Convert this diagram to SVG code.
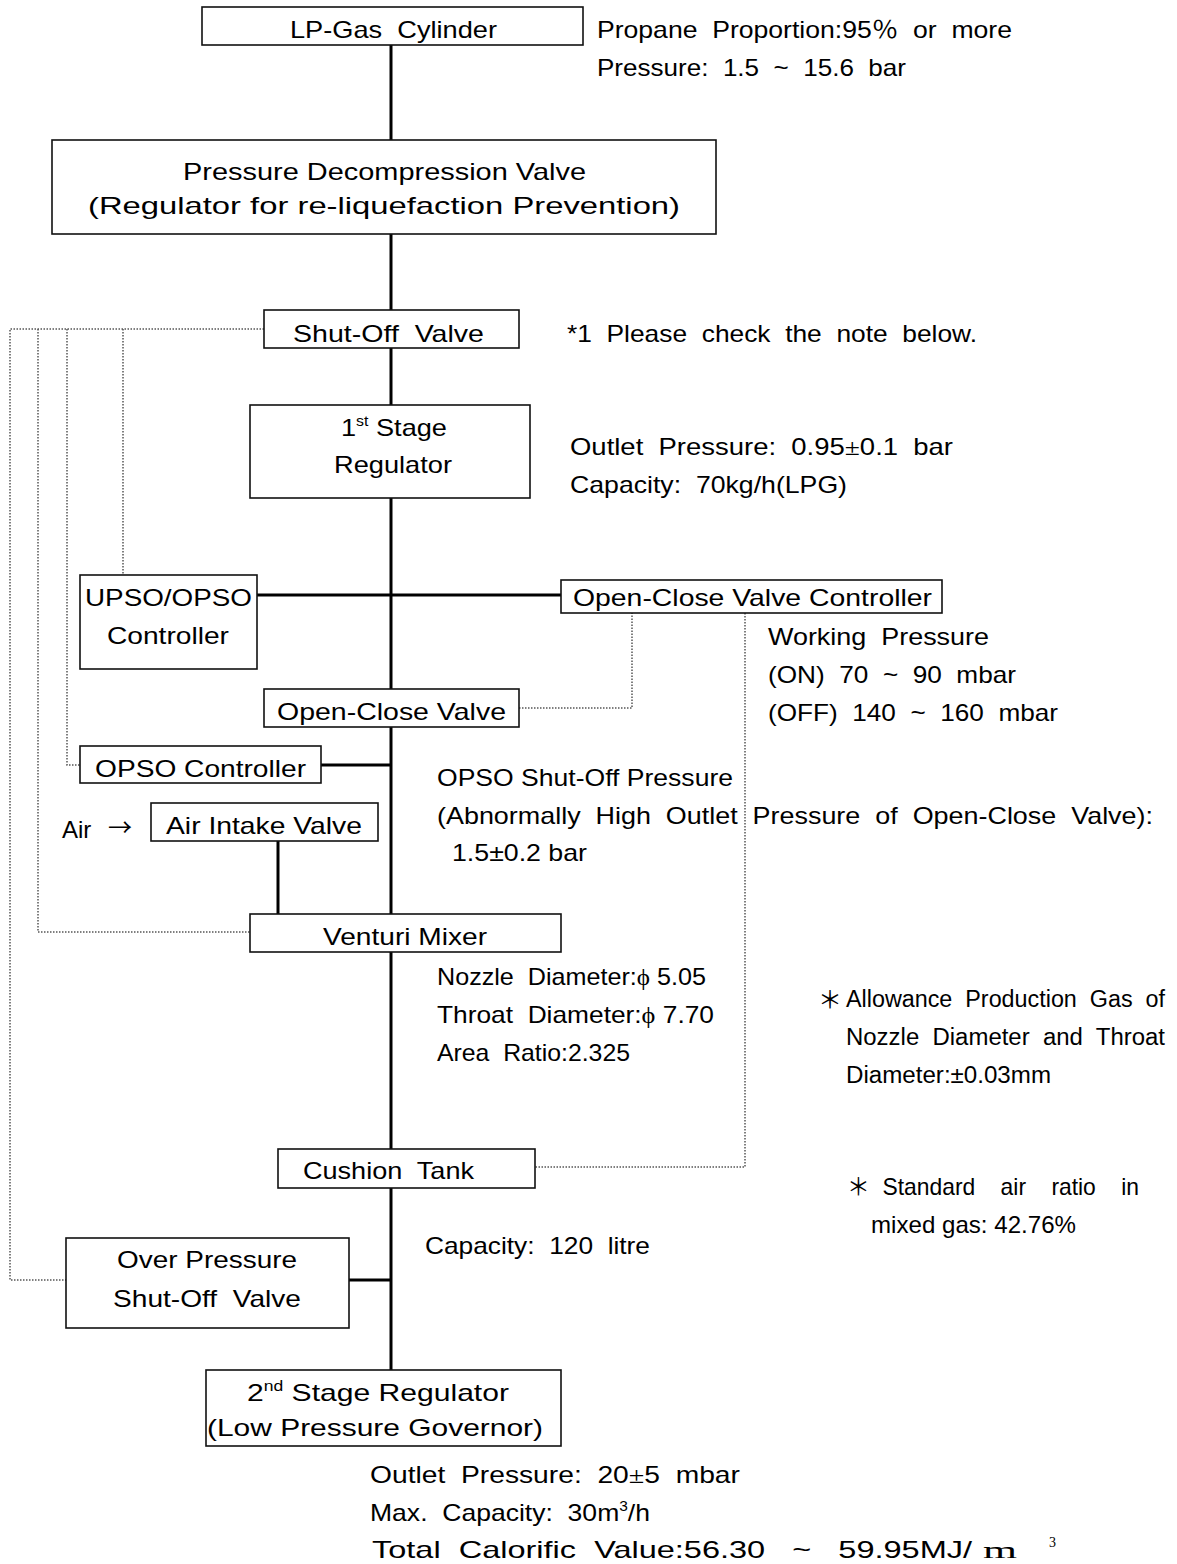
<svg xmlns="http://www.w3.org/2000/svg" width="1177" height="1564" viewBox="0 0 1177 1564" xml:space="preserve">
<style>
text{font-family:"Liberation Sans",Arial,"Noto Sans CJK KR",sans-serif;font-size:24px;fill:#000;white-space:pre}
.box{fill:#fff;stroke:#111;stroke-width:1.6}
.solid{stroke:#000;stroke-width:3;fill:none}
.dot{stroke:#555;stroke-width:1.5;stroke-dasharray:1.5 1.5;fill:none}
.serif{font-family:"Liberation Serif","Noto Sans CJK KR",serif}
.cjk{font-family:"Noto Sans CJK KR",sans-serif}
.sup{font-size:14px}
.small{font-size:23px}
</style>
<rect width="1177" height="1564" fill="#fff"/>
<g id="connectors">
<line class="solid" x1="391" y1="45" x2="391" y2="140"/>
<line class="solid" x1="391" y1="234" x2="391" y2="310"/>
<line class="solid" x1="391" y1="348" x2="391" y2="405"/>
<line class="solid" x1="391" y1="498" x2="391" y2="689"/>
<line class="solid" x1="391" y1="727" x2="391" y2="914"/>
<line class="solid" x1="391" y1="952" x2="391" y2="1149"/>
<line class="solid" x1="391" y1="1188" x2="391" y2="1370"/>
<line class="solid" x1="257" y1="595" x2="561" y2="595"/>
<line class="solid" x1="321" y1="765" x2="391" y2="765"/>
<line class="solid" x1="278" y1="841" x2="278" y2="914"/>
<line class="solid" x1="349" y1="1280" x2="391" y2="1280"/>
<polyline class="dot" points="264,329 10,329 10,1280 66,1280"/>
<polyline class="dot" points="38,329 38,932 250,932"/>
<polyline class="dot" points="67,329 67,765 80,765"/>
<line class="dot" x1="123" y1="329" x2="123" y2="575"/>
<polyline class="dot" points="519,708 632,708 632,613"/>
<polyline class="dot" points="745,613 745,1167 535,1167"/>
</g>
<g id="lp-gas-cylinder">
<rect class="box" x="202" y="7" width="381" height="38"/>
<text x="290" y="38" textLength="207" lengthAdjust="spacingAndGlyphs">LP-Gas  Cylinder</text>
</g>
<g id="note-cylinder">
<text x="597" y="38" textLength="415" lengthAdjust="spacingAndGlyphs">Propane  Proportion:95<tspan class="serif">％</tspan>  or  more</text>
<text x="597" y="76" textLength="309" lengthAdjust="spacingAndGlyphs">Pressure:  1.5  ~  15.6  bar</text>
</g>
<g id="pressure-decompression-valve">
<rect class="box" x="52" y="140" width="664" height="94"/>
<text x="183" y="180" textLength="403" lengthAdjust="spacingAndGlyphs">Pressure Decompression Valve</text>
<text x="88" y="214" textLength="592" lengthAdjust="spacingAndGlyphs">(Regulator for re-liquefaction Prevention)</text>
</g>
<g id="shut-off-valve">
<rect class="box" x="264" y="310" width="255" height="38"/>
<text x="293" y="342" textLength="191" lengthAdjust="spacingAndGlyphs">Shut-Off  Valve</text>
<text x="567" y="342" textLength="410" lengthAdjust="spacingAndGlyphs">*1  Please  check  the  note  below.</text>
</g>
<g id="first-stage-regulator">
<rect class="box" x="250" y="405" width="280" height="93"/>
<text x="341" y="436" textLength="106" lengthAdjust="spacingAndGlyphs">1<tspan class="sup" dy="-10">st</tspan><tspan dy="10"> Stage</tspan></text>
<text x="334" y="473" textLength="118" lengthAdjust="spacingAndGlyphs">Regulator</text>
<text x="570" y="455" textLength="383" lengthAdjust="spacingAndGlyphs">Outlet  Pressure:  0.95<tspan class="serif">±</tspan>0.1  bar</text>
<text x="570" y="493" textLength="277" lengthAdjust="spacingAndGlyphs">Capacity:  70kg/h(LPG)</text>
</g>
<g id="upso-opso-controller">
<rect class="box" x="80" y="575" width="177" height="94"/>
<text x="85" y="606" textLength="167" lengthAdjust="spacingAndGlyphs">UPSO/OPSO</text>
<text x="107" y="644" textLength="122" lengthAdjust="spacingAndGlyphs">Controller</text>
</g>
<g id="open-close-valve-controller">
<rect class="box" x="561" y="580" width="381" height="33"/>
<text x="573" y="606" textLength="359" lengthAdjust="spacingAndGlyphs">Open-Close Valve Controller</text>
<text x="768" y="645" textLength="221" lengthAdjust="spacingAndGlyphs">Working  Pressure</text>
<text x="768" y="683" textLength="248" lengthAdjust="spacingAndGlyphs">(ON)  70  ~  90  mbar</text>
<text x="768" y="721" textLength="290" lengthAdjust="spacingAndGlyphs">(OFF)  140  ~  160  mbar</text>
</g>
<g id="open-close-valve">
<rect class="box" x="264" y="689" width="255" height="38"/>
<text x="277" y="720" textLength="229" lengthAdjust="spacingAndGlyphs">Open-Close Valve</text>
</g>
<g id="opso-controller">
<rect class="box" x="80" y="746" width="241" height="37"/>
<text x="95" y="777" textLength="211" lengthAdjust="spacingAndGlyphs">OPSO Controller</text>
</g>
<g id="air-intake-valve">
<text x="62" y="838">Air</text>
<text x="108" y="836" class="cjk" font-size="22">→</text>
<rect class="box" x="151" y="803" width="227" height="38"/>
<text x="166" y="834" textLength="196" lengthAdjust="spacingAndGlyphs">Air Intake Valve</text>
</g>
<g id="opso-note">
<text x="437" y="786" textLength="296" lengthAdjust="spacingAndGlyphs">OPSO Shut-Off Pressure</text>
<text x="437" y="824" textLength="716" lengthAdjust="spacingAndGlyphs">(Abnormally  High  Outlet  Pressure  of  Open-Close  Valve):</text>
<text x="452" y="861" textLength="135" lengthAdjust="spacingAndGlyphs">1.5±0.2 bar</text>
</g>
<g id="venturi-mixer">
<rect class="box" x="250" y="914" width="311" height="38"/>
<text x="323" y="945" textLength="164" lengthAdjust="spacingAndGlyphs">Venturi Mixer</text>
<text x="437" y="985" textLength="269" lengthAdjust="spacingAndGlyphs">Nozzle  Diameter:<tspan class="serif">ϕ</tspan> 5.05</text>
<text x="437" y="1023" textLength="277" lengthAdjust="spacingAndGlyphs">Throat  Diameter:<tspan class="serif">ϕ</tspan> 7.70</text>
<text x="437" y="1061" textLength="193" lengthAdjust="spacingAndGlyphs">Area  Ratio:2.325</text>
</g>
<g id="allowance-note">
<text x="818" y="1008" class="cjk">＊</text>
<text x="846" y="1007" class="small" textLength="319" lengthAdjust="spacingAndGlyphs">Allowance  Production  Gas  of</text>
<text x="846" y="1045" class="small" textLength="319" lengthAdjust="spacingAndGlyphs">Nozzle  Diameter  and  Throat</text>
<text x="846" y="1083" class="small" textLength="205" lengthAdjust="spacingAndGlyphs">Diameter:±0.03mm</text>
</g>
<g id="cushion-tank">
<rect class="box" x="278" y="1149" width="257" height="39"/>
<text x="303" y="1179" textLength="171" lengthAdjust="spacingAndGlyphs">Cushion  Tank</text>
<text x="425" y="1254" textLength="225" lengthAdjust="spacingAndGlyphs">Capacity:  120  litre</text>
</g>
<g id="air-ratio-note">
<text x="847" y="1195" textLength="292" lengthAdjust="spacingAndGlyphs"><tspan class="cjk">＊</tspan>  Standard    air    ratio    in</text>
<text x="871" y="1233" textLength="205" lengthAdjust="spacingAndGlyphs">mixed gas: 42.76%</text>
</g>
<g id="over-pressure-shut-off-valve">
<rect class="box" x="66" y="1238" width="283" height="90"/>
<text x="117" y="1268" textLength="180" lengthAdjust="spacingAndGlyphs">Over Pressure</text>
<text x="113" y="1307" textLength="188" lengthAdjust="spacingAndGlyphs">Shut-Off  Valve</text>
</g>
<g id="second-stage-regulator">
<rect class="box" x="206" y="1370" width="355" height="76"/>
<text x="247" y="1401" textLength="262" lengthAdjust="spacingAndGlyphs">2<tspan class="sup" dy="-10">nd</tspan><tspan dy="10"> Stage Regulator</tspan></text>
<text x="207" y="1436" textLength="336" lengthAdjust="spacingAndGlyphs">(Low Pressure Governor)</text>
</g>
<g id="second-stage-note">
<text x="370" y="1483" textLength="370" lengthAdjust="spacingAndGlyphs">Outlet  Pressure:  20<tspan class="serif">±</tspan>5  mbar</text>
<text x="370" y="1521" textLength="280" lengthAdjust="spacingAndGlyphs">Max.  Capacity:  30m<tspan class="sup" dy="-10">3</tspan><tspan dy="10">/h</tspan></text>
<text x="372" y="1558" textLength="600" lengthAdjust="spacingAndGlyphs">Total  Calorific  Value:56.30   ~   59.95MJ/</text>
<text x="983" y="1558" class="serif" font-size="30" textLength="34" lengthAdjust="spacingAndGlyphs">m</text>
<text x="1049" y="1547" class="serif sup">3</text>
</g>
</svg>
